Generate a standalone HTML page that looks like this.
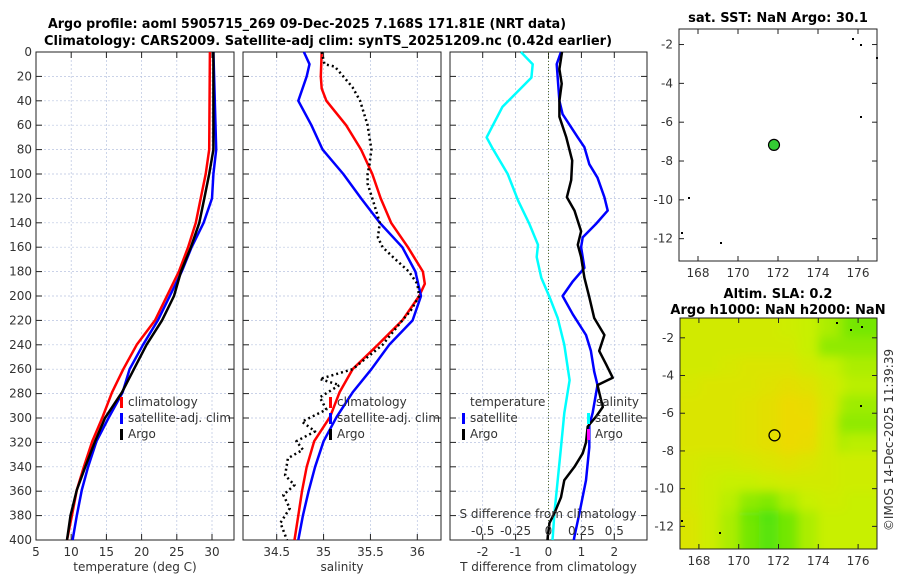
<!DOCTYPE html>
<html><head><meta charset="utf-8">
<style>
body{margin:0;background:#fff;}
svg{display:block;font-family:"DejaVu Sans","Liberation Sans",sans-serif;}
.t{font-size:12px;fill:#333;}
.ti{font-size:13px;font-weight:bold;fill:#000;}
</style></head>
<body>
<svg id="c" width="900" height="580" viewBox="0 0 900 580"></svg>
<script>
// ---- data ----
const depthTicks=[0,20,40,60,80,100,120,140,160,180,200,220,240,260,280,300,320,340,360,380,400];
const tempTicks=[5,10,15,20,25,30];
const salTicks=[34.5,35,35.5,36];
const tdiffTicks=[-2,-1,0,1,2];
const sdiffTicks=[-0.5,-0.25,0,0.25,0.5];
const sdiffLabels=["-0.5","-0.25","0","0.25","0.5"];
const tClimD=[0,80,100,120,140,160,180,200,220,240,260,279,300,319,340,359,380,400];
const tClimV=[29.7,29.6,29.1,28.4,27.7,26.6,25.3,23.6,21.9,19.3,17.4,15.8,14.4,13.0,11.8,10.8,10.1,9.4];
const tSatD=[0,80,100,120,140,160,180,200,220,240,260,279,300,319,340,359,380,400];
const tSatV=[30.2,30.6,30.2,30.0,28.8,27.1,25.7,24.0,22.3,20.2,18.3,17.3,15.3,13.6,12.4,11.5,10.8,10.2];
const tArgoD=[0,80,100,120,140,160,180,200,220,240,260,279,300,319,340,359,380,400];
const tArgoV=[30.2,30.2,29.6,28.9,28.2,27.0,25.6,24.6,22.9,20.7,18.9,17.2,14.8,13.4,12.0,10.8,9.9,9.4];
const sClimD=[0,20,30,40,60,80,100,120,140,160,180,190,200,220,240,260,279,299,319,340,360,380,400];
const sClimV=[34.98,34.97,34.98,35.03,35.24,35.40,35.52,35.61,35.72,35.90,36.06,36.08,36.02,35.84,35.58,35.31,35.17,35.07,34.90,34.82,34.77,34.73,34.69];
const sSatD=[0,10,20,40,60,80,100,120,140,160,180,200,220,240,260,279,299,319,340,360,380,400];
const sSatV=[34.79,34.85,34.82,34.73,34.87,34.99,35.21,35.40,35.60,35.84,35.98,36.04,35.95,35.70,35.51,35.31,35.14,35.0,34.91,34.84,34.78,34.73];
const sArgoD=[0,10,12,20,29,40,60,80,92,100,108,120,130,140,152,160,168,180,190,200,212,220,240,260,268,273,283,293,303,311,319,326,333,347,355,363,374,386,400];
const sArgoV=[34.98,35.01,35.12,35.21,35.31,35.39,35.47,35.51,35.49,35.47,35.47,35.52,35.56,35.60,35.58,35.63,35.74,35.91,36.0,36.02,35.93,35.84,35.63,35.31,34.96,35.17,34.96,35.03,34.77,34.91,34.71,34.78,34.62,34.59,34.69,34.57,34.64,34.54,34.61];
const dTSatD=[0,10,40,51,70,78,92,103,119,130,141,152,160,177,188,200,215,232,245,262,273,296,306,324,351,378,397,400];
const dTSatV=[0.38,0.25,0.33,0.43,0.89,1.09,1.24,1.49,1.70,1.80,1.44,1.04,0.99,1.09,0.74,0.43,0.74,1.14,1.29,1.39,1.49,1.34,1.24,1.24,1.14,0.94,0.79,0.77];
const dTArgoD=[0,14,26,40,53,70,89,105,119,130,147,158,168,185,201,218,232,245,256,267,273,280,291,299,307,320,329,340,351,365,378,386,397,400];
const dTArgoV=[0.41,0.33,0.40,0.33,0.33,0.54,0.72,0.69,0.56,0.79,0.99,0.89,0.99,1.09,1.24,1.39,1.70,1.54,1.75,1.95,1.49,1.55,1.65,1.44,1.19,1.14,1.04,0.79,0.48,0.38,0.18,0.03,-0.02,-0.03];
const dSSatD=[0,10,21,32,45,70,78,100,122,141,158,168,185,201,218,240,269,296,324,351,378,397,400];
const dSSatV=[-0.21,-0.12,-0.13,-0.23,-0.35,-0.47,-0.43,-0.31,-0.23,-0.145,-0.08,-0.09,-0.055,0.008,0.07,0.12,0.16,0.12,0.095,0.07,0.045,0.033,0.03];
const lonTicks=[168,170,172,174,176];
const latTicks=[-2,-4,-6,-8,-10,-12];
const floatLon=171.8, floatLat=-7.17;
const slaGrid=[
[0.6,0.6,0.6,0.6,0.6,0.55,0.5,0.4,0.3,0.2],
[0.6,0.6,0.6,0.6,0.6,0.6,0.5,0.3,0.3,0.3],
[0.6,0.6,0.65,0.7,0.7,0.7,0.6,0.5,0.45,0.4],
[0.65,0.7,0.7,0.7,0.75,0.8,0.75,0.6,0.5,0.45],
[0.7,0.7,0.7,0.75,0.8,0.9,0.85,0.65,0.4,0.35],
[0.7,0.7,0.7,0.75,0.8,0.9,0.9,0.6,0.3,0.3],
[0.7,0.7,0.7,0.75,0.8,0.9,0.85,0.6,0.4,0.45],
[0.65,0.6,0.6,0.65,0.7,0.75,0.7,0.6,0.55,0.55],
[0.65,0.55,0.5,0.5,0.55,0.6,0.6,0.6,0.55,0.55],
[0.65,0.55,0.45,0.3,0.25,0.4,0.5,0.55,0.55,0.5],
[0.7,0.55,0.4,0.15,0.05,0.2,0.4,0.5,0.5,0.5],
[0.7,0.55,0.4,0.2,0.1,0.2,0.4,0.5,0.5,0.5]];

// ---- helpers ----
const S=document.getElementById('c');const NS='http://www.w3.org/2000/svg';
function el(tag,at,parent){const e=document.createElementNS(NS,tag);for(const k in at)e.setAttribute(k,at[k]);(parent||S).appendChild(e);return e;}
function txt(x,y,s,cls,anchor,extra){const e=el('text',Object.assign({x:x,y:y,class:cls,'text-anchor':anchor||'middle'},extra||{}));e.textContent=s;return e;}
const Y0=52,Y1=540;
const yD=d=>Y0+(d/400)*(Y1-Y0);
function lin(d0,d1,p0,p1){return v=>p0+(v-d0)/(d1-d0)*(p1-p0);}
function line(xs,ds,fx,color,w,name,dash){
  const pts=xs.map((v,i)=>fx(v).toFixed(1)+','+yD(ds[i]).toFixed(1)).join(' ');
  const p=el('polyline',{points:pts,fill:'none',stroke:color,'stroke-width':w,'stroke-linejoin':'round'});
  if(dash)p.setAttribute('stroke-dasharray',dash);
  
  
}
function panel(x0,x1,xt,fx,name,xlabel,showY){
  const g=el('g',{});
  
  
  depthTicks.forEach(d=>{el('line',{x1:x0,x2:x1,y1:yD(d),y2:yD(d),stroke:'#b8c4e0','stroke-width':0.7,'stroke-dasharray':'2,2'},g);
    el('line',{x1:x0,x2:x0+6,y1:yD(d),y2:yD(d),stroke:'#222'},g);el('line',{x1:x1-6,x2:x1,y1:yD(d),y2:yD(d),stroke:'#222'},g);
    if(showY)txt(x0-4,yD(d)+4,String(d),'t','end');});
  xt.forEach((v,i)=>{const x=fx(v);el('line',{x1:x,x2:x,y1:Y0,y2:Y1,stroke:'#b8c4e0','stroke-width':0.7,'stroke-dasharray':'2,2'},g);
    el('line',{x1:x,x2:x,y1:Y1-6,y2:Y1,stroke:'#222'},g);el('line',{x1:x,x2:x,y1:Y0,y2:Y0+6,stroke:'#222'},g);
    txt(x,556,String(v),'t');});
  el('rect',{x:x0,y:Y0,width:x1-x0,height:Y1-Y0,fill:'none',stroke:'#222','stroke-width':1},g);
  const l=txt((x0+x1)/2,571,xlabel,'t');
  
  
}
function legend(x,y,items){items.forEach((it,i)=>{const yy=y+i*16;
  if(it[1])el('rect',{x:x,y:yy-9,width:3,height:11,fill:it[1]});
  const t=txt(x+8,yy,it[0],'t','start');
  
  });}

// titles
const t1=txt(307,28,'Argo profile: aoml 5905715_269 09-Dec-2025 7.168S 171.81E (NRT data)','ti','middle',{textLength:518,lengthAdjust:'spacingAndGlyphs'});


const t2=txt(328,45,'Climatology: CARS2009. Satellite-adj clim: synTS_20251209.nc (0.42d earlier)','ti','middle',{textLength:568,lengthAdjust:'spacingAndGlyphs'});



// panel 1 temperature
const fT=lin(5,30,36,212);
panel(36,234,tempTicks,fT,'temperature-panel','temperature (deg C)',true);
line(tClimV,tClimD,fT,'#f00',2.5,'temp-climatology-line');
line(tSatV,tSatD,fT,'#00f',2.5,'temp-satellite-line');
line(tArgoV,tArgoD,fT,'#000',2.5,'temp-argo-line');
legend(120,406,[['climatology','#f00'],['satellite-adj. clim','#00f'],['Argo','#000']]);

// panel 2 salinity
const fS=lin(34.5,36,276.7,417.3);
panel(243,441,salTicks,fS,'salinity-panel','salinity',false);
line(sClimV,sClimD,fS,'#f00',2.5,'sal-climatology-line');
line(sSatV,sSatD,fS,'#00f',2.5,'sal-satellite-line');
line(sArgoV,sArgoD,fS,'#000',2.5,'sal-argo-line','2,3');
legend(329,406,[['climatology','#f00'],['satellite-adj. clim','#00f'],['Argo','#000']]);

// panel 3 differences
const fD=lin(0,1,548.5,581.4);
const fDS=v=>fD(v*4);
panel(450,647,tdiffTicks,fD,'difference-panel','T difference from climatology',false);
el('line',{x1:548.5,x2:548.5,y1:Y0,y2:Y1,stroke:'#556b2f','stroke-width':1,'stroke-dasharray':'1,2'});
line(dSSatV,dSSatD,fDS,'#0ff',2.5,'sal-diff-satellite-line');
line(dTSatV,dTSatD,fD,'#00f',2.5,'temp-diff-satellite-line');
line(dTArgoV,dTArgoD,fD,'#000',2.5,'temp-diff-argo-line');
txt(470,406,'temperature','t','start');
legend(462,422,[['satellite','#00f'],['Argo','#000']]);
txt(596,406,'salinity','t','start');
legend(587,422,[['satellite','#0ff'],['Argo','#f0f']]);
txt(548,518,'S difference from climatology','t');
sdiffTicks.forEach((v,i)=>txt(fDS(v),535,sdiffLabels[i],'t'));

// maps
function mapAxes(x0,y0,x1,y1,latTop,latBot,name){
  const fx=lin(167.05,176.95,x0,x1), fy=lin(latTop,latBot,y0,y1);
  lonTicks.forEach(v=>{const x=fx(v);el('line',{x1:x,x2:x,y1:y1-5,y2:y1,stroke:'#222'});el('line',{x1:x,x2:x,y1:y0,y2:y0+5,stroke:'#222'});txt(x,y1+16,String(v),'t');});
  latTicks.forEach(v=>{const y=fy(v);el('line',{x1:x0,x2:x0+5,y1:y,y2:y,stroke:'#222'});el('line',{x1:x1-5,x2:x1,y1:y,y2:y,stroke:'#222'});txt(x0-6,y+4,String(v),'t','end');});
  const r=el('rect',{x:x0,y:y0,width:x1-x0,height:y1-y0,fill:'none',stroke:'#222'});
  
  
  return [fx,fy];
}
// SST map
const m1t=txt(778,22,'sat. SST: NaN Argo: 30.1','ti');


const [f1x,f1y]=mapAxes(679,29,877,261,-1.2,-13.15,'sst-map');
const dot=el('circle',{cx:f1x(floatLon),cy:f1y(floatLat),r:5.5,fill:'#3c3',stroke:'#000','stroke-width':1.2});


[[852,38],[860,44],[876,57],[688,197],[681,232],[720,242],[860,116]].forEach(p=>el('rect',{x:p[0],y:p[1],width:2,height:2,fill:'#000'}));

// SLA map
const m2a=txt(778,298,'Altim. SLA: 0.2','ti');


txt(778,314,'Argo h1000: NaN h2000: NaN','ti');
const defs=el('defs',{});
const flt=el('filter',{id:'bl',x:'-5%',y:'-5%',width:'110%',height:'110%'},defs);
el('feGaussianBlur',{stdDeviation:5},flt);
const cp=el('clipPath',{id:'mc'},defs);
el('rect',{x:680,y:318,width:197,height:231},cp);
const mg=el('g',{'clip-path':'url(#mc)'});


const hg=el('g',{filter:'url(#bl)'},mg);
function slaColor(v){const c0=[60,225,10],c1=[200,240,0],c2=[245,212,0];
  let a,b,t;if(v<0.5){a=c0;b=c1;t=v/0.5;}else{a=c1;b=c2;t=(v-0.5)/0.5;}
  return 'rgb('+a.map((x,i)=>Math.round(x+(b[i]-x)*t)).join(',')+')';}
const mx=lin(167,177,680,877), my=lin(-1,-13,318,549);
slaGrid.forEach((row,r)=>row.forEach((v,c)=>{
  const x=mx(167+c), y=my(-1-r);
  const cell=el('rect',{x:x-12,y:y-12,width:mx(168+c)-x+24,height:my(-2-r)-y+24,fill:slaColor(v)},hg);
  if(c>0&&c<9)cell.setAttribute('x',x),cell.setAttribute('width',mx(168+c)-x+0.5);
  if(r>0&&r<11)cell.setAttribute('y',y),cell.setAttribute('height',my(-2-r)-y+0.5);
  
  
}));
const [f2x,f2y]=mapAxes(680,318,877,549,-0.95,-13.2,'sla-map');
const ring=el('circle',{cx:f2x(floatLon),cy:f2y(floatLat),r:5.5,fill:'none',stroke:'#000','stroke-width':1.3});


[[836,322],[850,329],[861,326],[681,520],[719,532],[860,405]].forEach(p=>el('rect',{x:p[0],y:p[1],width:2,height:2,fill:'#000'}));

const cr=txt(0,0,'©IMOS 14-Dec-2025 11:39:39','t','middle',{transform:'translate(893,440) rotate(-90)'});


</script>
</body></html>
